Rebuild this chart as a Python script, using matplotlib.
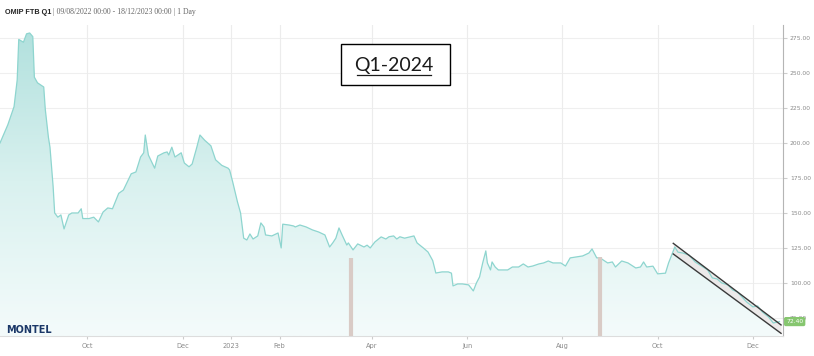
import numpy as np
import pandas as pd
import matplotlib
matplotlib.use("Agg")
import matplotlib.pyplot as plt
import matplotlib.dates as mdates
import matplotlib.transforms as mtransforms
from matplotlib.colors import LinearSegmentedColormap
from matplotlib.patches import Rectangle
from matplotlib.lines import Line2D

# ---------------- data ----------------
dates = [
    "2022-08-06", "2022-08-11", "2022-08-15", "2022-08-17", "2022-08-18", "2022-08-21",
    "2022-08-23", "2022-08-25", "2022-08-27", "2022-08-28", "2022-08-30", "2022-09-03",
    "2022-09-04", "2022-09-06", "2022-09-07", "2022-09-09", "2022-09-10", "2022-09-12",
    "2022-09-14", "2022-09-16", "2022-09-19", "2022-09-21", "2022-09-25", "2022-09-27",
    "2022-09-28", "2022-10-02", "2022-10-05", "2022-10-08", "2022-10-11", "2022-10-14",
    "2022-10-17", "2022-10-21", "2022-10-24", "2022-10-29", "2022-11-01", "2022-11-04",
    "2022-11-06", "2022-11-07", "2022-11-09", "2022-11-13", "2022-11-15", "2022-11-19",
    "2022-11-21", "2022-11-22", "2022-11-24", "2022-11-26", "2022-11-30", "2022-12-02",
    "2022-12-05", "2022-12-07", "2022-12-10", "2022-12-12", "2022-12-15", "2022-12-19",
    "2022-12-22", "2022-12-26", "2022-12-30", "2022-12-31", "2023-01-02", "2023-01-05",
    "2023-01-07", "2023-01-09", "2023-01-11", "2023-01-13", "2023-01-15", "2023-01-18",
    "2023-01-20", "2023-01-22", "2023-01-23", "2023-01-27", "2023-01-31", "2023-02-02",
    "2023-02-03", "2023-02-07", "2023-02-10", "2023-02-11", "2023-02-14", "2023-02-18",
    "2023-02-22", "2023-02-26", "2023-03-02", "2023-03-05", "2023-03-07", "2023-03-09",
    "2023-03-11", "2023-03-13", "2023-03-16", "2023-03-17", "2023-03-20", "2023-03-23",
    "2023-03-27", "2023-03-29", "2023-03-31", "2023-04-03", "2023-04-07", "2023-04-10",
    "2023-04-12", "2023-04-15", "2023-04-17", "2023-04-19", "2023-04-22", "2023-04-28",
    "2023-04-30", "2023-05-04", "2023-05-07", "2023-05-10", "2023-05-12", "2023-05-16",
    "2023-05-20", "2023-05-22", "2023-05-23", "2023-05-26", "2023-05-29", "2023-06-02",
    "2023-06-05", "2023-06-07", "2023-06-09", "2023-06-11", "2023-06-13", "2023-06-14",
    "2023-06-16", "2023-06-17", "2023-06-19", "2023-06-21", "2023-06-27", "2023-06-30",
    "2023-07-04", "2023-07-07", "2023-07-10", "2023-07-13", "2023-07-17", "2023-07-20",
    "2023-07-23", "2023-07-26", "2023-07-31", "2023-08-03", "2023-08-06", "2023-08-10",
    "2023-08-14", "2023-08-18", "2023-08-20", "2023-08-23", "2023-08-25", "2023-08-30",
    "2023-09-02", "2023-09-04", "2023-09-08", "2023-09-12", "2023-09-17", "2023-09-20",
    "2023-09-22", "2023-09-24", "2023-09-28", "2023-10-01", "2023-10-06", "2023-10-08",
    "2023-10-10", "2023-10-12", "2023-10-14", "2023-10-17", "2023-10-21", "2023-10-25",
    "2023-10-28", "2023-11-02", "2023-11-05", "2023-11-08", "2023-11-11", "2023-11-15",
    "2023-11-18", "2023-11-21", "2023-11-24", "2023-11-27", "2023-12-01", "2023-12-04",
    "2023-12-07", "2023-12-11", "2023-12-14", "2023-12-18",
]
prices = [
    200.0, 213.0, 226.0, 245.0, 274.0, 272.0,
    278.0, 278.6, 276.0, 247.0, 243.0, 240.0,
    224.0, 204.0, 197.0, 169.0, 150.0, 147.0,
    148.6, 138.6, 148.6, 150.0, 150.0, 153.0,
    146.0, 146.0, 147.0, 143.6, 150.7, 153.6,
    153.0, 164.0, 166.4, 178.0, 179.3, 190.0,
    193.0, 205.7, 191.4, 182.0, 190.7, 193.0,
    193.6, 191.4, 197.0, 190.0, 193.0, 185.7,
    183.0, 185.0, 197.0, 205.7, 202.0, 198.0,
    188.0, 184.0, 182.0, 180.7, 172.0, 158.0,
    150.0, 132.0, 130.7, 135.0, 131.4, 133.6,
    142.9, 140.0, 134.3, 133.6, 135.7, 125.0,
    142.0, 141.4, 140.7, 140.0, 141.4, 140.0,
    137.9, 136.4, 134.3, 125.7, 128.6, 132.0,
    139.3, 134.3, 127.1, 128.6, 123.6, 127.9,
    125.7, 127.0, 125.0, 129.3, 132.9, 131.4,
    133.0, 133.6, 131.4, 133.0, 132.0, 133.6,
    128.6, 125.0, 122.1, 116.0, 107.1, 107.9,
    107.9, 107.0, 97.9, 99.3, 99.3, 98.6,
    94.3, 100.0, 104.3, 114.3, 122.9, 114.3,
    109.3, 115.0, 111.4, 109.3, 109.3, 111.4,
    111.4, 113.6, 111.4, 112.1, 113.6, 114.3,
    115.7, 114.3, 114.3, 112.1, 117.9, 118.6,
    119.3, 121.4, 124.3, 117.9, 118.0, 114.3,
    115.0, 111.4, 115.7, 114.3, 110.7, 111.4,
    115.0, 111.4, 112.0, 106.5, 107.0, 114.3,
    120.0, 125.7, 122.0, 121.4, 120.0, 115.0,
    112.9, 109.3, 103.6, 102.9, 100.0, 98.6,
    95.0, 93.6, 90.0, 86.4, 82.9, 83.6,
    79.3, 75.7, 71.4, 72.4,
]

# vertical event bars
bar_dates = ["2023-03-19", "2023-08-25"]
bar_values = [118.0, 118.5]

# down-trend channel
channel_dates = ["2023-10-11", "2023-12-19"]
channel_upper = [128.3, 70.0]
channel_lower = [120.7, 64.0]

last_value = 72.40

x_tick_dates = ["2022-08-01", "2022-10-01", "2022-12-01", "2023-01-01", "2023-02-01",
                "2023-04-01", "2023-06-01", "2023-08-01", "2023-10-01", "2023-12-01"]
x_tick_labels = ["Aug", "Oct", "Dec", "2023", "Feb", "Apr", "Jun", "Aug", "Oct", "Dec"]
y_ticks = [75, 100, 125, 150, 175, 200, 225, 250, 275]

title_bold = "OMIP FTB Q1"
title_rest = " | 09/08/2022 00:00 - 18/12/2023 00:00 | 1 Day"
box_label = "Q1-2024"

# ---------------- figure ----------------
W, H = 814, 356
fig = plt.figure(figsize=(W / 100, H / 100), dpi=100)
fig.patch.set_facecolor("white")
ax = fig.add_axes([0 / W, (H - 336) / H, 783 / W, (336 - 25) / H])
ax.set_facecolor("white")

x = pd.to_datetime(dates)
xn = mdates.date2num(x)
y = np.array(prices)

xmin = mdates.date2num(pd.Timestamp("2022-08-06"))
xmax = mdates.date2num(pd.Timestamp("2023-12-20 06:00"))
ymin, ymax = 62.1, 284.3

# gradient fill under the line
cmap = LinearSegmentedColormap.from_list("tealgrad", ["#f4fbfb", "#d9f1ef", "#b0e0dd"])
poly = ax.fill_between(xn, y, ymin, facecolor="none", edgecolor="none")
grad = np.linspace(0, 1, 256).reshape(-1, 1)
im = ax.imshow(grad, extent=[xmin, xmax, ymin, ymax], origin="lower",
               aspect="auto", cmap=cmap, zorder=1, interpolation="bilinear")
im.set_clip_path(poly.get_paths()[0], transform=ax.transData)

# channel fill (beneath the price line)
cx = mdates.date2num(pd.to_datetime(channel_dates))
ax.fill_between(cx, channel_lower, channel_upper, color="#ece7e7", alpha=0.85, zorder=2, lw=0)

ax.plot(xn, y, color="#8ed5cf", lw=0.9, zorder=3)

# event bars
ax.vlines(mdates.date2num(pd.to_datetime(bar_dates)), ymin, bar_values,
          colors="#d9cbc6", lw=3, zorder=4)

# channel borders
ax.plot(cx, channel_upper, color="#3a3a3a", lw=1.0, zorder=6)
ax.plot(cx, channel_lower, color="#3a3a3a", lw=1.0, zorder=6)

ax.set_xlim(xmin, xmax)
ax.set_ylim(ymin, ymax)

# grid
for yt in y_ticks:
    ax.axhline(yt, color="#efefef", lw=0.8, zorder=0)
tick_nums = mdates.date2num(pd.to_datetime(x_tick_dates))
vis = [(t, l) for t, l in zip(tick_nums, x_tick_labels) if xmin <= t <= xmax]
for t, _ in vis:
    ax.axvline(t, color="#ececec", lw=0.8, zorder=0)

ax.set_xticks([t for t, _ in vis])
ax.set_xticklabels([l for _, l in vis])
ax.tick_params(axis="x", length=2, color="#cccccc", labelsize=4.8, labelcolor="#8a8a8a", pad=3)
# partially cut label at the left edge
trans = mtransforms.blended_transform_factory(ax.transData, ax.transAxes)
ax.text(tick_nums[0], -0.038, x_tick_labels[0], transform=trans, ha="center", va="top",
        fontsize=4.8, color="#8a8a8a", clip_on=False)

ax.yaxis.tick_right()
ax.set_yticks(y_ticks)
ax.set_yticklabels([f"{v:.2f}" for v in y_ticks])
ax.tick_params(axis="y", length=3, color="#cccccc", labelsize=4.3, labelcolor="#8a8a8a", pad=2)

for s in ["top", "left"]:
    ax.spines[s].set_visible(False)
ax.spines["right"].set_color("#b5b5b5")
ax.spines["right"].set_linewidth(0.8)
ax.spines["bottom"].set_color("#dddddd")
ax.spines["bottom"].set_linewidth(0.8)

# last value tag
ytrans = mtransforms.blended_transform_factory(ax.transAxes, ax.transData)
ax.text(1.004, last_value, f"{last_value:.2f}", transform=ytrans, ha="left", va="center",
        fontsize=4.3, color="white", zorder=10, clip_on=False,
        bbox=dict(boxstyle="round,pad=0.35,rounding_size=0.3", fc="#86c66f", ec="none"))

# title
t1 = fig.text(5 / W, (H - 12) / H, title_bold, fontsize=5.2, fontweight="bold",
              color="#222222", va="center", ha="left", family="Liberation Sans")
fig.canvas.draw()
ax.annotate(title_rest, xy=(1, 0.5), xycoords=t1, va="center", ha="left",
            fontsize=5.6, color="#666666", family="Liberation Serif", annotation_clip=False)

# logo
fig.text(6 / W, (H - 330) / H, "MONTEL", fontsize=7, fontweight="heavy",
         color="#1b3868", va="center", ha="left", family="DejaVu Sans")

# Q1-2024 box
fig.patches.append(Rectangle((341 / W, (H - 85) / H), 109 / W, 41 / H, transform=fig.transFigure,
                             fill=True, fc="white", ec="black", lw=1.0, zorder=20))
fig.text(394 / W, (H - 66) / H, box_label, fontsize=14, color="#1a1a1a", ha="center",
         va="center", family="Lato", zorder=21)
fig.lines.append(Line2D([357 / W, 431 / W], [(H - 74.5) / H, (H - 74.5) / H],
                        transform=fig.transFigure, color="#1a1a1a", lw=0.9, zorder=21))

fig.savefig("out.png", dpi=100)
